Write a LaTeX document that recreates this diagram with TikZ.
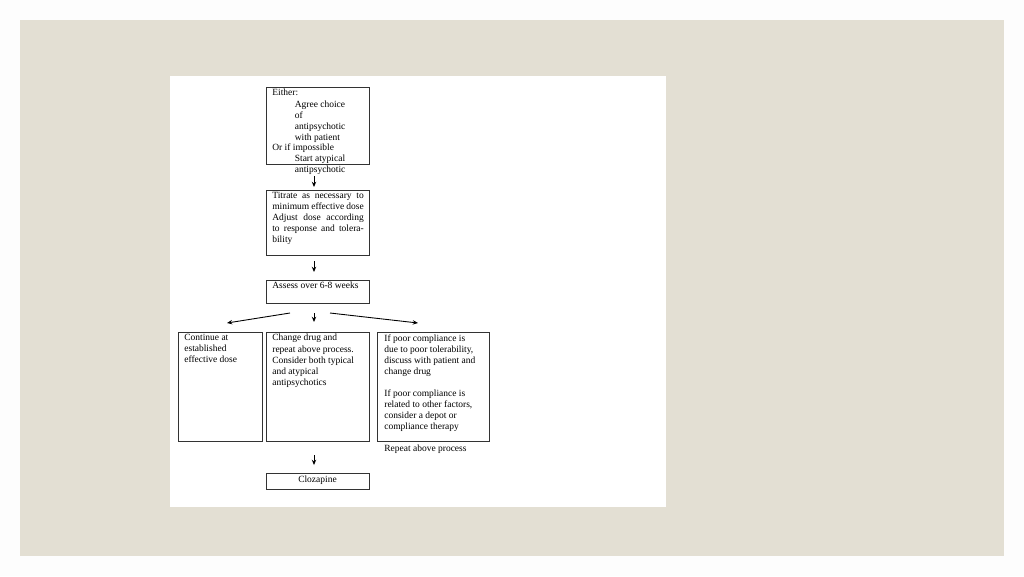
\documentclass[tikz,border=0pt]{standalone}
\usepackage{fontspec}
\setmainfont{Liberation Serif}
\usetikzlibrary{arrows.meta}
\begin{document}
\begin{tikzpicture}[x=0.02cm,y=-0.02cm,
  txt/.style={anchor=north west,inner sep=0pt,font=\fontsize{5.4}{6.3}\selectfont,align=left},
  box/.style={draw=black!80,line width=0.5pt},
  arr/.style={-{Stealth[length=3pt,width=2.5pt]},line width=0.5pt}]
\fill[white!92!black!8] (0,0) rectangle (1024,576);
\fill[fill={rgb,255:red,227;green,223;blue,211}] (20,20) rectangle (1004,556);
\fill[white] (170,76) rectangle (666,507);
\useasboundingbox (0,0) rectangle (1024,576);
% boxes
\draw[box] (266,87) rectangle (369,164);
\draw[box] (266,190) rectangle (369,255);
\draw[box] (266,280) rectangle (369,303);
\draw[box] (178,332) rectangle (262,441);
\draw[box] (266,332) rectangle (369,441);
\draw[box] (377,332) rectangle (489,441);
\draw[box] (266,473) rectangle (369,489);
% texts
\node[txt] (t1) at (272,89) {Either:\\
\hspace*{32\pgflinewidth}\parbox[t]{1.2cm}{Agree choice\\of\\antipsychotic\\with patient}\\
Or if impossible\\
\hspace*{32\pgflinewidth}\parbox[t]{1.2cm}{Start atypical\\antipsychotic}};
\node[txt,text width=1.83cm,align=justify] (t2) at (272,192) {Titrate as necessary to minimum effective dose\\Adjust dose according to response and tolerability};
\node[txt] (t3) at (272,282) {Assess over 6-8 weeks};
\node[txt] (t4) at (184,334) {Continue at\\established\\effective dose};
\node[txt] (t5) at (272,334) {Change drug and\\repeat above process.\\Consider both typical\\and atypical\\antipsychotics};
\node[txt] (t6) at (384,334) {If poor compliance is\\due to poor tolerability,\\discuss with patient and\\change drug\\[6.3pt]If poor compliance is\\related to other factors,\\consider a depot or\\compliance therapy\\[6.3pt]Repeat above process};
\node[txt,anchor=north] (t7) at (317.5,476) {Clozapine};
% arrows
\coordinate (a1) at (314,176); \coordinate (a1e) at (314,187);
\coordinate (a2) at (314,261); \coordinate (a2e) at (314,272);
\coordinate (l0) at (290,313); \coordinate (l1) at (227,323);
\coordinate (m0) at (314,313); \coordinate (m1) at (314,322);
\coordinate (r0) at (330,313); \coordinate (r1) at (418,323);
\coordinate (b0) at (314,455); \coordinate (b1) at (314,465);
\draw[arr] (a1) -- (a1e);
\draw[arr] (a2) -- (a2e);
\draw[arr] (l0) -- (l1);
\draw[arr] (m0) -- (m1);
\draw[arr] (r0) -- (r1);
\draw[arr] (b0) -- (b1);
\end{tikzpicture}
\end{document}
